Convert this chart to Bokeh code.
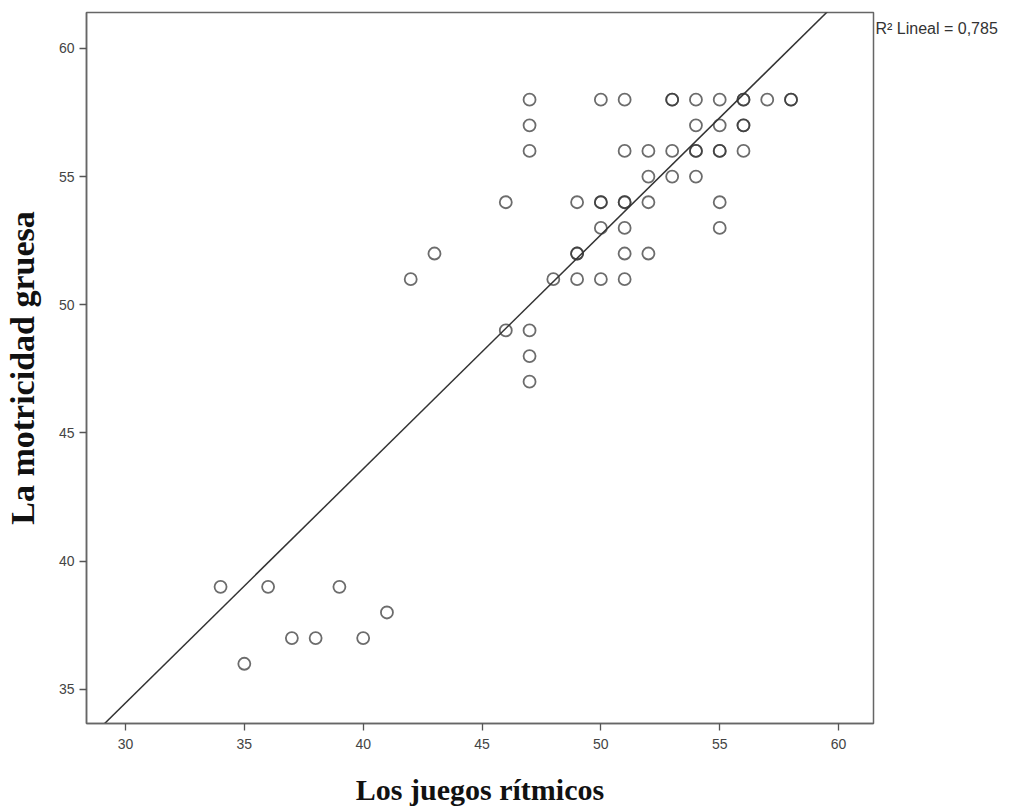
from bokeh.plotting import figure
from bokeh.models import Range1d, FixedTicker, LinearAxis
from bokeh.embed import file_html
from bokeh.resources import INLINE

# Data (duplicates repeated where circles look darker)
juegos = [34, 35, 36, 37, 38, 39, 40, 41,
          42, 43, 46, 46, 47, 47, 47, 47, 47, 47,
          48, 49, 49, 49, 49, 50, 50, 50, 50, 50,
          51, 51, 51, 51, 51, 51, 51,
          52, 52, 52, 52,
          53, 53, 53, 53,
          54, 54, 54, 54, 54,
          55, 55, 55, 55, 55, 55,
          56, 56, 56, 56, 56,
          57, 58, 58]
motricidad = [39, 36, 39, 37, 37, 39, 37, 38,
              51, 52, 54, 49, 58, 57, 56, 49, 48, 47,
              51, 54, 52, 52, 51, 58, 54, 54, 53, 51,
              58, 56, 54, 54, 53, 52, 51,
              56, 55, 54, 52,
              58, 58, 56, 55,
              58, 57, 56, 56, 55,
              58, 57, 56, 56, 54, 53,
              58, 58, 57, 57, 56,
              58, 58, 58]

fit_slope = 0.913
fit_intercept = 7.08
r2_text = "R² Lineal = 0,785"
r2_y = 60.78

x_ticks = [30, 35, 40, 45, 50, 55, 60]
y_ticks = [35, 40, 45, 50, 55, 60]

p = figure(width=1018, height=810, output_backend="svg", toolbar_location=None,
           x_range=Range1d(28.36, 61.47), y_range=Range1d(33.67, 61.4),
           min_border_left=85, min_border_right=145, min_border_top=12,
           min_border_bottom=87)
p.background_fill_color = "white"
p.border_fill_color = "white"
p.outline_line_color = "#666666"
p.outline_line_width = 1.5
p.xgrid.visible = False
p.ygrid.visible = False

fit_x = [28.0, 62.0]
fit_y = [fit_intercept + fit_slope * v for v in fit_x]
p.line(fit_x, fit_y, line_color="#333333", line_width=1.5)

p.scatter(juegos, motricidad, marker="circle", size=12, fill_color=None,
          line_color="#333333", line_alpha=0.72, line_width=1.8)

for ax in (p.xaxis, p.yaxis):
    ax.axis_line_color = "#666666"
    ax.axis_line_width = 1.5
    ax.major_tick_line_color = "#555555"
    ax.major_tick_line_width = 1.3
    ax.major_tick_out = 7
    ax.major_tick_in = 0
    ax.minor_tick_line_color = None
    ax.major_label_text_font = "Liberation Sans"
    ax.major_label_text_font_size = "14px"
    ax.major_label_text_color = "#444444"
    ax.axis_label_text_font = "Liberation Serif"
    ax.axis_label_text_font_style = "bold"
    ax.axis_label_text_color = "#111111"

p.xaxis.ticker = FixedTicker(ticks=x_ticks)
p.yaxis.ticker = FixedTicker(ticks=y_ticks)
p.xaxis.major_label_standoff = 8
p.yaxis.major_label_standoff = 5
p.xaxis.axis_label = "Los juegos rítmicos"
p.yaxis.axis_label = "La motricidad gruesa"
p.xaxis.axis_label_text_font_size = "30px"
p.yaxis.axis_label_text_font_size = "34px"
p.xaxis.axis_label_standoff = 21
p.yaxis.axis_label_standoff = 15

# R² annotation as a tick label on an invisible right axis
r2_axis = LinearAxis(ticker=FixedTicker(ticks=[r2_y]),
                     major_label_overrides={r2_y: r2_text})
r2_axis.axis_line_color = None
r2_axis.major_tick_line_color = None
r2_axis.minor_tick_line_color = None
r2_axis.major_tick_out = 0
r2_axis.major_tick_in = 0
r2_axis.major_label_standoff = 2
r2_axis.major_label_text_font = "Liberation Sans"
r2_axis.major_label_text_font_size = "16px"
r2_axis.major_label_text_color = "#333333"
p.add_layout(r2_axis, "right")

open("out.html", "w").write(file_html(p, INLINE))
